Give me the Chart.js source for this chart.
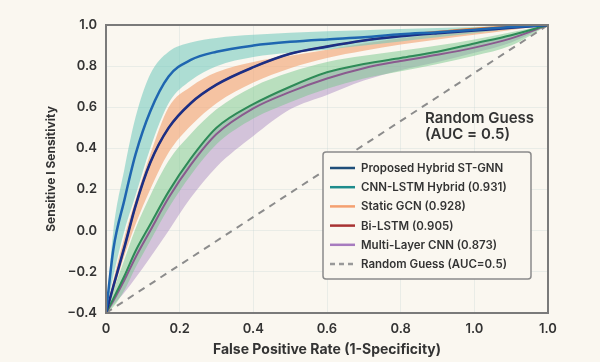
<!DOCTYPE html>
<html>
<head>
<meta charset="utf-8">
<script src="https://cdn.jsdelivr.net/npm/chart.js@4"></script>
<style>
  html, body { margin: 0; padding: 0; background: #faf7f0; }
  #wrap { width: 600px; height: 362px; }
</style>
</head>
<body>
<div id="wrap"><canvas id="rocChart" width="600" height="362"></canvas></div>
<script>
// shared FPR grid (axis units as drawn, 0..1.2)
const fpr = [0, 0.02, 0.05, 0.08, 0.12, 0.17, 0.23, 0.3, 0.4, 0.5, 0.6, 0.7, 0.8, 0.9, 1.0, 1.1, 1.2];

const tealUpper   = [-0.4, 0.0, 0.3, 0.55, 0.76, 0.87, 0.915, 0.937, 0.952, 0.962, 0.97, 0.975, 0.98, 0.985, 0.99, 0.995, 1.0];
const tealLower   = [-0.4, -0.22, 0.0, 0.17, 0.4, 0.62, 0.73, 0.8, 0.845, 0.865, 0.88, 0.9, 0.92, 0.94, 0.96, 0.98, 1.0];
const blueLine    = [-0.4, -0.09, 0.15, 0.37, 0.58, 0.75, 0.83, 0.87, 0.9, 0.918, 0.93, 0.94, 0.955, 0.965, 0.977, 0.99, 1.0];

const orangeUpper = [-0.4, -0.24, -0.03, 0.15, 0.37, 0.6, 0.7, 0.77, 0.82, 0.85, 0.88, 0.91, 0.935, 0.955, 0.97, 0.985, 1.0];
const orangeLower = [-0.4, -0.29, -0.12, 0.03, 0.2, 0.38, 0.51, 0.62, 0.72, 0.79, 0.84, 0.875, 0.905, 0.93, 0.952, 0.976, 1.0];
const orangeLine  = [-0.4, -0.27, -0.08, 0.12, 0.33, 0.5, 0.62, 0.71, 0.795, 0.86, 0.895, 0.925, 0.948, 0.967, 0.982, 0.992, 1.0];
const navyLine    = [-0.4, -0.27, -0.08, 0.12, 0.33, 0.5, 0.62, 0.71, 0.795, 0.86, 0.895, 0.925, 0.945, 0.96, 0.973, 0.987, 1.0];

const greenUpper  = [-0.4, -0.29, -0.14, 0.01, 0.17, 0.34, 0.47, 0.59, 0.7, 0.77, 0.82, 0.85, 0.875, 0.9, 0.93, 0.965, 1.0];
const greenLower  = [-0.4, -0.37, -0.29, -0.18, -0.05, 0.11, 0.27, 0.42, 0.545, 0.625, 0.69, 0.74, 0.775, 0.81, 0.85, 0.9, 1.0];
const greenLine   = [-0.4, -0.33, -0.22, -0.1, 0.03, 0.19, 0.35, 0.5, 0.615, 0.7, 0.77, 0.81, 0.84, 0.87, 0.91, 0.95, 1.0];

const purpleUpper = [-0.4, -0.32, -0.21, -0.1, 0.03, 0.19, 0.35, 0.5, 0.62, 0.7, 0.765, 0.81, 0.845, 0.875, 0.91, 0.95, 1.0];
const purpleLower = [-0.4, -0.36, -0.3, -0.23, -0.13, 0.0, 0.16, 0.31, 0.46, 0.59, 0.66, 0.73, 0.78, 0.82, 0.865, 0.915, 1.0];
const purpleLine  = [-0.4, -0.34, -0.24, -0.13, 0.0, 0.16, 0.32, 0.47, 0.595, 0.675, 0.74, 0.79, 0.825, 0.855, 0.89, 0.935, 1.0];

const diagX = [0, 1.2];
const diagY = [-0.4, 1.0];

const xTickLabels = ["0", "0.2", "0.4", "0.6", "0.8", "1.0", "1.0"];

const legendNames = ["Proposed Hybrid ST-GNN", "CNN-LSTM Hybrid (0.931)", "Static GCN (0.928)",
                     "Bi-LSTM (0.905)", "Multi-Layer CNN (0.873)", "Random Guess (AUC=0.5)"];
const legendColors = ["#1f4e79", "#1e8c8c", "#f4a070", "#a83232", "#a77bbf", "#999999"];

const pts = (ys, xs = fpr) => ys.map((y, i) => ({ x: xs[i], y: y }));

const FONT = "Inter, 'Open Sans', sans-serif";
const INK = "#333333";

function band(upper, lower, color) {
    return [
        { data: pts(upper), borderWidth: 0, pointRadius: 0, fill: false, order: 10, cubicInterpolationMode: "monotone" },
        { data: pts(lower), borderWidth: 0, pointRadius: 0, fill: "-1", backgroundColor: color, order: 10, cubicInterpolationMode: "monotone" }
    ];
}
// lower order is drawn on top
function line(ys, color, w, order) {
    return { data: pts(ys), borderColor: color, borderWidth: w, pointRadius: 0, fill: false, order: order, cubicInterpolationMode: "monotone" };
}

function yLabel(v) {
    const r = Math.round(v * 10) / 10;
    return (r < 0 ? "\u2212" : "") + Math.abs(r).toFixed(1);
}

const overlay = {
    id: "overlay",
    afterDraw(chart) {
        const ctx = chart.ctx;
        ctx.save();
        // random guess annotation
        ctx.fillStyle = INK;
        ctx.font = "600 15px " + FONT;
        ctx.textAlign = "left";
        ctx.textBaseline = "alphabetic";
        ctx.fillText("Random Guess", 425, 123);
        ctx.fillText("(AUC = 0.5)", 425, 139);

        // legend box
        const bx = 323, by = 152, bw = 208, bh = 127;
        ctx.fillStyle = "#faf7f0";
        ctx.strokeStyle = "#8a8a8a";
        ctx.lineWidth = 1.5;
        ctx.beginPath();
        ctx.roundRect(bx, by, bw, bh, 3);
        ctx.fill();
        ctx.stroke();

        ctx.font = "600 11.5px " + FONT;
        ctx.textBaseline = "middle";
        legendNames.forEach((name, i) => {
            const y = 168 + i * 19.2;
            ctx.strokeStyle = legendColors[i];
            ctx.lineWidth = 2.5;
            ctx.setLineDash(i === legendNames.length - 1 ? [5, 4] : []);
            ctx.beginPath();
            ctx.moveTo(330, y);
            ctx.lineTo(355, y);
            ctx.stroke();
            ctx.setLineDash([]);
            ctx.fillStyle = INK;
            ctx.fillText(name, 361, y + 0.5);
        });
        ctx.restore();
    }
};

const ctx = document.getElementById("rocChart").getContext("2d");
new Chart(ctx, {
    type: "line",
    data: {
        datasets: [
            ...band(tealUpper, tealLower, "rgba(110, 200, 188, 0.55)"),
            ...band(orangeUpper, orangeLower, "rgba(242, 160, 110, 0.6)"),
            ...band(greenUpper, greenLower, "rgba(120, 200, 140, 0.5)"),
            ...band(purpleUpper, purpleLower, "rgba(165, 130, 190, 0.45)"),
            { data: pts(diagY, diagX), borderColor: "#8c8c8c", borderWidth: 2, borderDash: [7, 6], pointRadius: 0, fill: false, order: 6 },
            line(purpleLine, "#8a5a8e", 2, 5),
            line(greenLine, "#2e8b57", 2, 4),
            line(orangeLine, "#f08030", 2, 3),
            line(navyLine, "#1b2f86", 2.6, 2),
            line(blueLine, "#1f66b0", 2.5, 1)
        ]
    },
    options: {
        responsive: false,
        animation: false,
        layout: { padding: { top: 25, right: 52, left: 0, bottom: 0 } },
        plugins: { legend: { display: false }, tooltip: { enabled: false } },
        scales: {
            x: {
                type: "linear", min: 0, max: 1.2,
                border: { color: "#7a7a7a", width: 2 },
                grid: { color: "rgba(200, 215, 215, 0.35)", drawTicks: false },
                ticks: {
                    stepSize: 0.2, padding: 8, color: INK,
                    font: { family: FONT, size: 13, weight: "600" },
                    callback: (v, i) => xTickLabels[i]
                },
                title: { display: true, text: "False Positive Rate (1-Specificity)", color: INK, padding: { top: 4 },
                         font: { family: FONT, size: 14, weight: "700" } },
                afterFit: s => { s.height = 49; }
            },
            y: {
                min: -0.4, max: 1.0,
                border: { color: "#7a7a7a", width: 2 },
                grid: { color: "rgba(200, 215, 215, 0.35)", drawTicks: false },
                ticks: {
                    stepSize: 0.2, padding: 9, color: INK,
                    font: { family: FONT, size: 13, weight: "600" },
                    callback: v => yLabel(v)
                },
                title: { display: true, text: "Sensitive I Sensitivity", color: INK, padding: { top: 44, bottom: 6 },
                         font: { family: FONT, size: 12, weight: "700" } },
                afterFit: s => { s.width = 106; }
            }
        }
    },
    plugins: [overlay, {
        id: "frame",
        afterDatasetsDraw(chart) {
            const a = chart.chartArea, c = chart.ctx;
            c.save();
            c.strokeStyle = "#7a7a7a";
            c.lineWidth = 2;
            c.strokeRect(a.left, a.top, a.right - a.left, a.bottom - a.top);
            c.restore();
        }
    }]
});
</script>
</body>
</html>
